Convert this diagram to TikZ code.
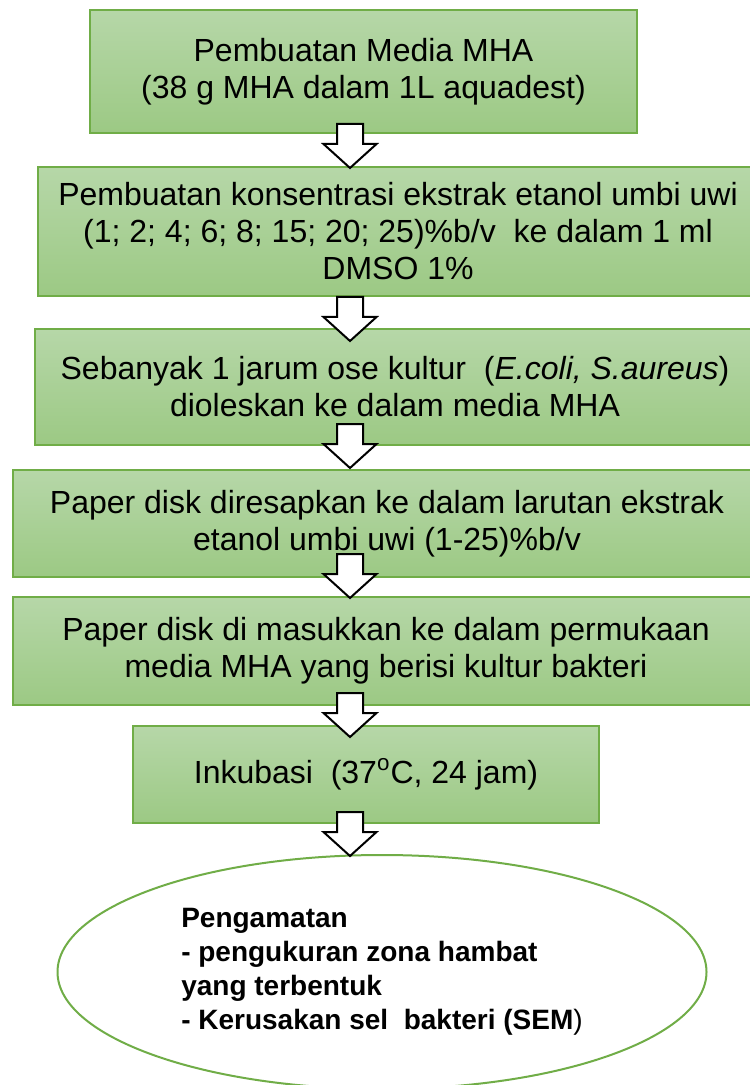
\documentclass[tikz,border=0pt]{standalone}
\usepackage{fontspec}
\setmainfont{Liberation Sans}
\usepackage{tikz}
\usetikzlibrary{shapes.geometric}
\definecolor{FlowTop}{HTML}{B6D7A8}
\definecolor{FlowBot}{HTML}{9CC984}
\definecolor{FlowLine}{HTML}{70AD47}
\tikzset{
  stepbox/.style={draw=FlowLine, line width=0.8pt, top color=FlowTop, bottom color=FlowBot,
    rectangle, inner sep=0pt, align=center, text=black,
    font=\fontsize{16}{18.5}\selectfont},
  endoval/.style={draw=FlowLine, line width=1pt, fill=white, ellipse, inner sep=0pt,
    align=left, text=black, font=\fontsize{14}{17}\selectfont\bfseries},
  downarrow/.style={draw=black, fill=white, line width=1pt, line join=miter}
}
\newcommand{\stepnode}[6]{%
  \node[stepbox, minimum width=#4*0.5pt, minimum height=#5*0.5pt] (#1) at (#2,#3) {#6};
}
% hollow block arrow hanging down from a named point
\newcommand{\blockarrow}[3]{%
  \coordinate (#1) at (#2,#3);
  \draw[downarrow, shift={(#1)}] (-13,0) -- (13,0) -- (13,20) -- (26.5,20)
    -- (0,44) -- (-26.5,20) -- (-13,20) -- cycle;
}

\begin{document}
\begin{tikzpicture}[x=0.5pt,y=-0.5pt]
  \useasboundingbox (0,0) rectangle (749,1085);

  \stepnode{media}{363.5}{71.5}{547}{123}{Pembuatan Media MHA\\(38 g MHA dalam 1L aquadest)}
  \stepnode{konsentrasi}{398}{231.5}{720}{129}{Pembuatan konsentrasi ekstrak etanol umbi uwi\\(1; 2; 4; 6; 8; 15; 20; 25)\%b/v\ \ ke dalam 1 ml\\DMSO 1\%}
  \stepnode{kultur}{395}{387}{720}{116}{Sebanyak 1 jarum ose kultur\ \ (\textit{E.coli, S.aureus})\\dioleskan ke dalam media MHA}
  \stepnode{resap}{387}{523.5}{748}{107}{Paper disk diresapkan ke dalam larutan ekstrak\\etanol umbi uwi (1-25)\%b/v}
  \stepnode{masuk}{386}{651}{746}{108}{Paper disk di masukkan ke dalam permukaan\\media MHA yang berisi kultur bakteri}
  \stepnode{inkubasi}{366}{774.5}{466}{97}{Inkubasi\ \ (37\textsuperscript{o}C, 24 jam)}

  \node[endoval, minimum width=324.5pt, minimum height=117pt] (amati) at (382,972)
    {Pengamatan\\- pengukuran zona hambat\\yang terbentuk\\- Kerusakan sel\ \ bakteri (SEM\textmd{)}};

  \blockarrow{a1}{350}{124}
  \blockarrow{a2}{350}{297}
  \blockarrow{a3}{350}{424}
  \blockarrow{a4}{350}{554}
  \blockarrow{a5}{350}{693}
  \blockarrow{a6}{350}{812}
\end{tikzpicture}
\end{document}
